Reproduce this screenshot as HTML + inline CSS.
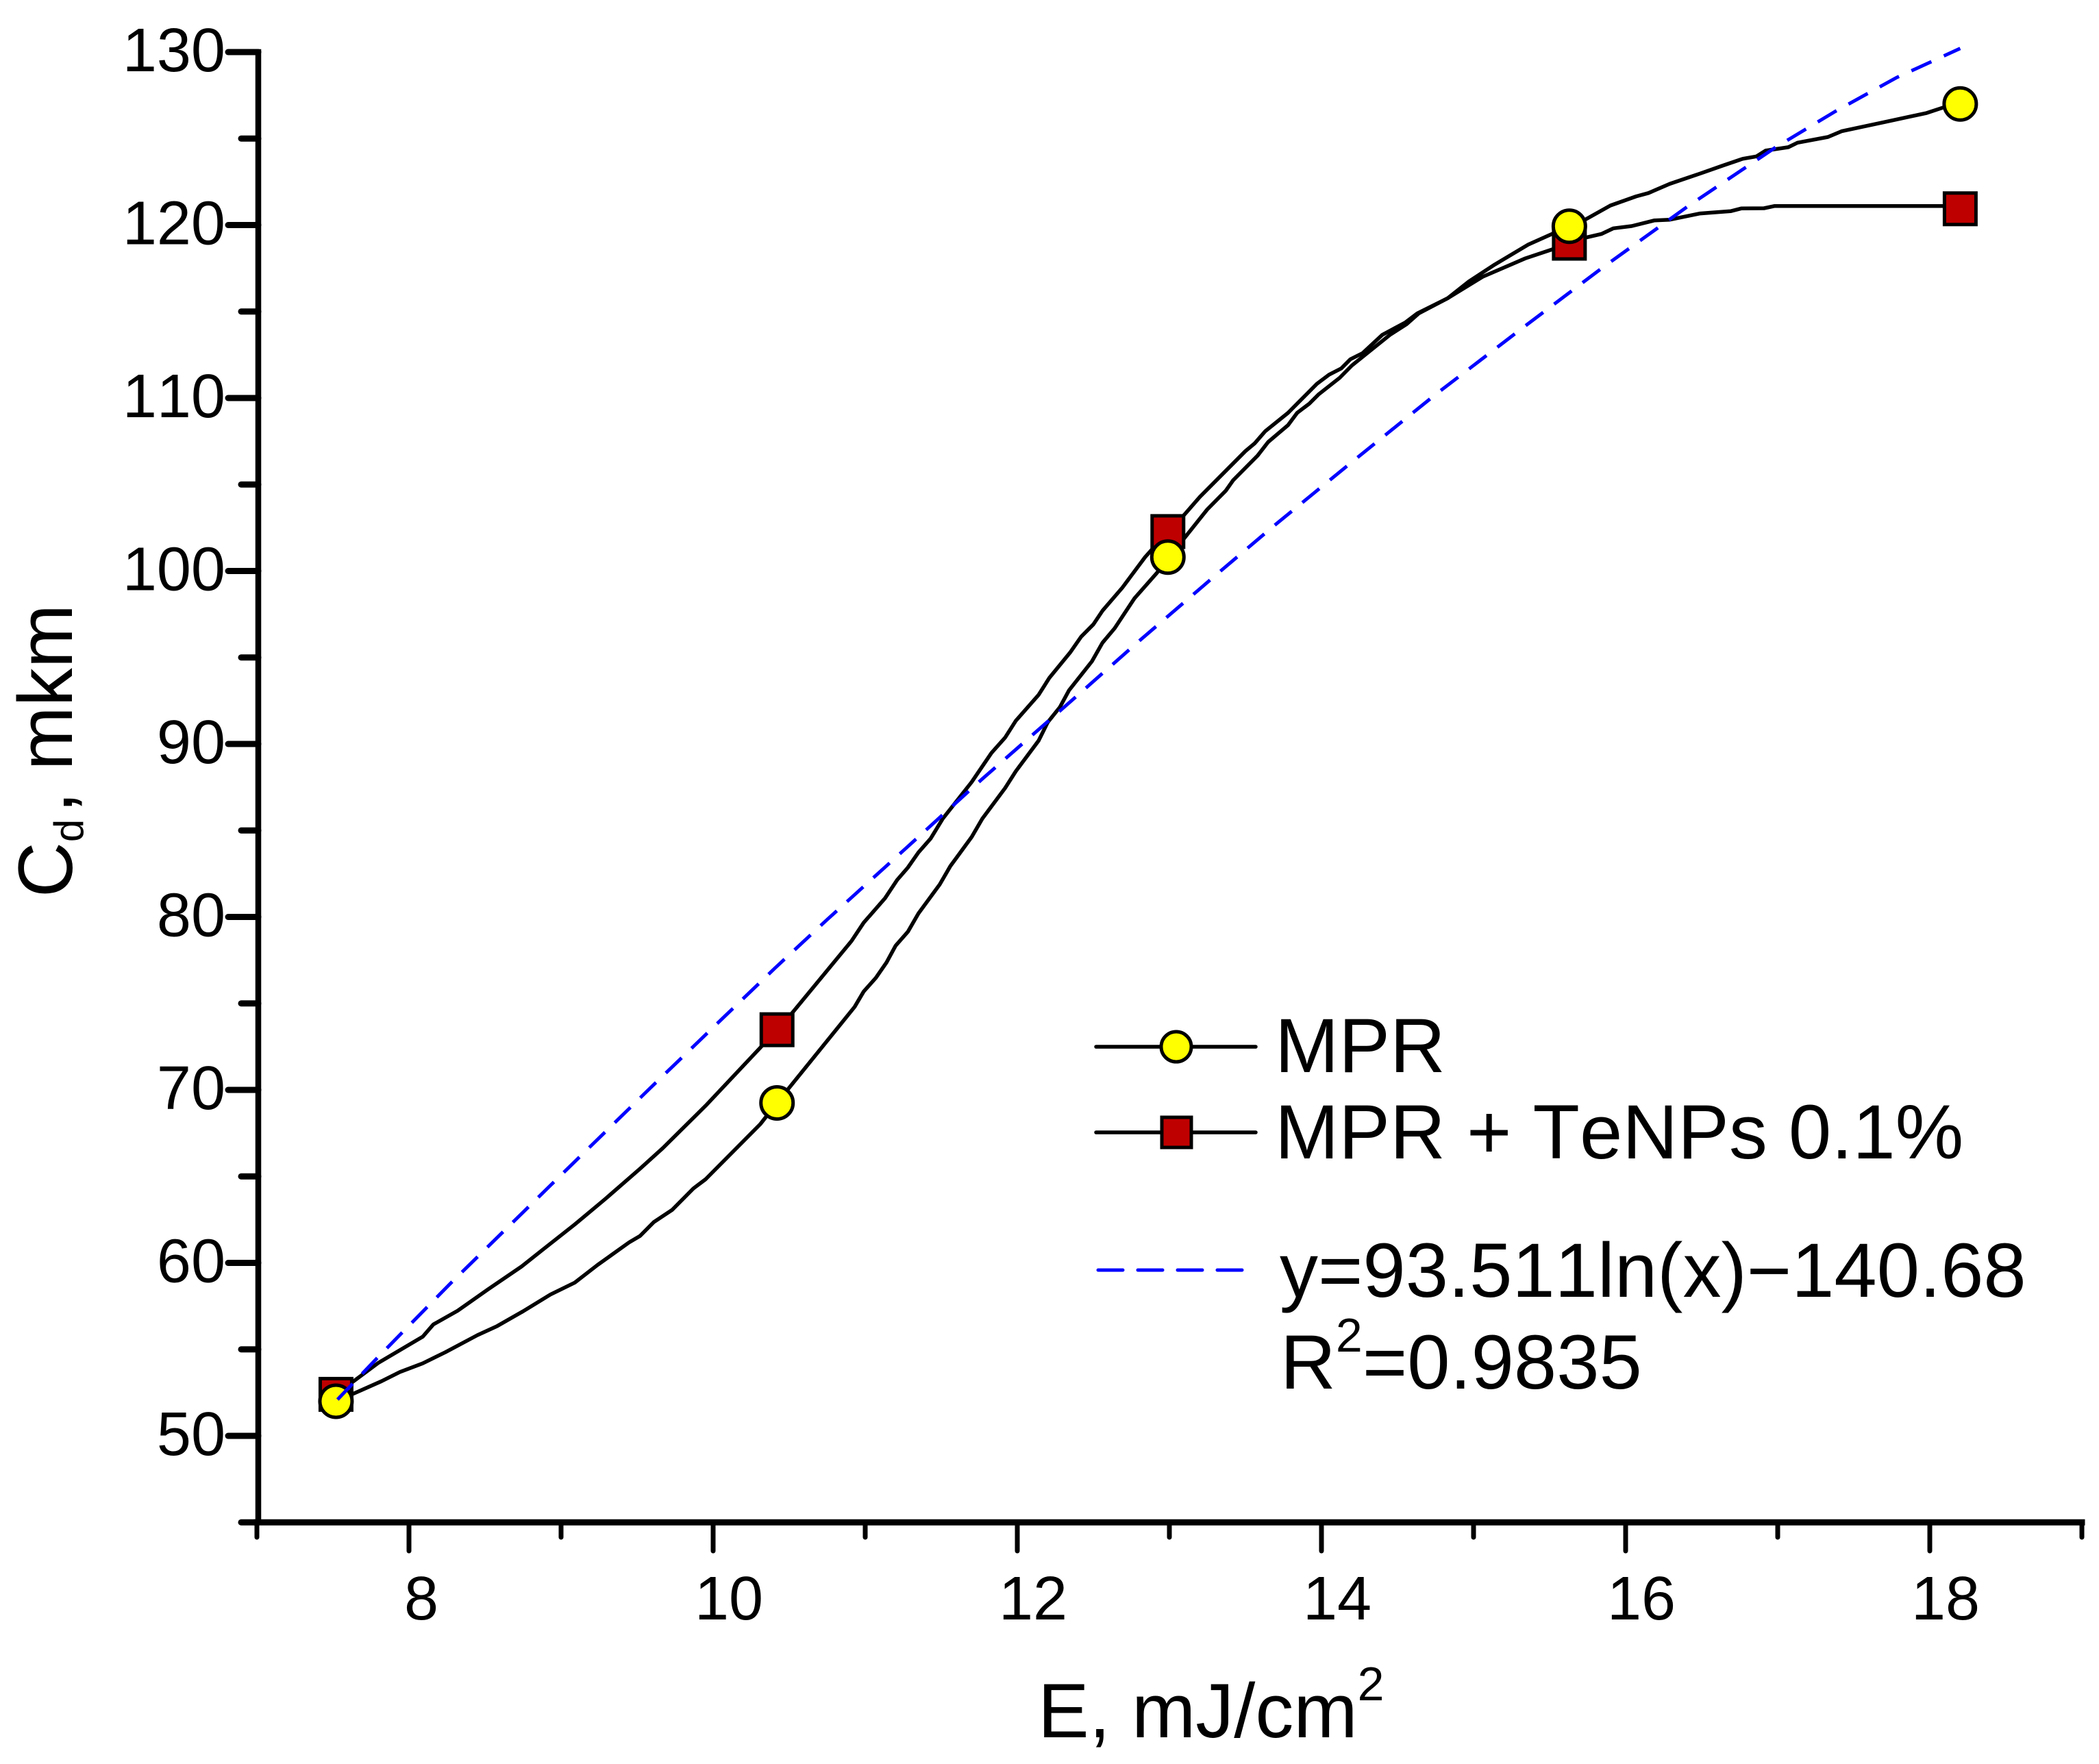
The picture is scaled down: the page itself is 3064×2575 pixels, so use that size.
<!DOCTYPE html>
<html lang="en">
<head>
<meta charset="utf-8">
<title>Cd vs E chart</title>
<style>
html,body{margin:0;padding:0;background:#fff;}
svg{display:block;}
text{font-family:"Liberation Sans",Arial,sans-serif;fill:#000;font-kerning:none;}
</style>
</head>
<body>
<svg id="chart" xmlns="http://www.w3.org/2000/svg" width="3064" height="2575" viewBox="0 0 3064 2575">
  <rect x="0" y="0" width="3064" height="2575" fill="#ffffff"/>
  <g id="axes"></g>
  <g id="series"></g>

  <text x="1515" y="2536" font-size="112">E, mJ/cm<tspan font-size="70" dy="-54">2</tspan></text>
  <text transform="translate(105,1310) rotate(-90)" x="0" y="0" font-size="112">C<tspan font-size="60" dy="16">d</tspan><tspan dx="9" dy="-16">, mkm</tspan></text>

  <g>
    <g>
      <line x1="1600" y1="1528" x2="1833" y2="1528" stroke="#000" stroke-width="5.5" stroke-linecap="round"/>
      <circle cx="1717" cy="1528" r="22" fill="#ffff00" stroke="#000" stroke-width="5"/>
      <text x="1861" y="1565" font-size="112">MPR</text>
    </g>
    <g>
      <line x1="1600" y1="1653" x2="1833" y2="1653" stroke="#000" stroke-width="5.5" stroke-linecap="round"/>
      <rect x="1696" y="1631" width="43" height="44" fill="#bf0000" stroke="#000" stroke-width="5"/>
      <text x="1861" y="1691" font-size="112">MPR + TeNPs 0.1%</text>
    </g>
    <g>
      <line x1="1603" y1="1854" x2="1815" y2="1854" stroke="#0000ff" stroke-width="5" stroke-linecap="round" stroke-dasharray="36 22"/>
      <text x="1868" y="1893" font-size="112">y=93.511ln(x)−140.68</text>
      <text x="1869" y="2027" font-size="112">R<tspan font-size="70" dy="-54">2</tspan><tspan dy="54">=0.9835</tspan></text>
    </g>
  </g>
</svg>
<script>
// ---- chart data ----
const xMajorTicks = [8, 10, 12, 14, 16, 18];
const xMinorTicks = [7, 9, 11, 13, 15, 17, 19];
const yMajorTicks = [50, 60, 70, 80, 90, 100, 110, 120, 130];
const yMinorTicks = [45, 55, 65, 75, 85, 95, 105, 115, 125];

const mprMarkerX = [7.52, 10.42, 12.99, 15.63, 18.2];
const mprMarkerY = [52.0, 69.25, 100.8, 119.93, 127.0];
const tenpsMarkerX = [7.52, 10.42, 12.99, 15.63, 18.2];
const tenpsMarkerY = [52.4, 73.48, 102.28, 118.95, 120.94];

const mprCurveX = [7.52,7.64,7.82,7.94,8.09,8.24,8.45,8.58,8.75,8.93,9.09,9.24,9.45,9.52,9.61,9.73,9.87,9.95,10.31,10.42,10.82,10.93,10.99,11.07,11.14,11.20,11.28,11.35,11.49,11.56,11.70,11.77,11.92,11.99,12.14,12.20,12.28,12.34,12.49,12.56,12.64,12.77,12.92,12.99,13.08,13.25,13.37,13.42,13.58,13.65,13.78,13.84,13.92,13.98,14.12,14.20,14.45,14.56,14.64,14.83,14.97,15.14,15.36,15.52,15.63,15.74,15.90,16.07,16.15,16.29,16.49,16.64,16.77,16.86,16.92,17.07,17.13,17.33,17.42,17.70,17.98,18.09,18.2];
const mprCurveY = [52.0,52.46,53.16,53.69,54.19,54.84,55.82,56.35,57.2,58.17,58.86,59.88,61.2,61.56,62.36,63.06,64.3,64.83,68.02,69.25,73.6,74.8,75.69,76.48,77.37,78.34,79.14,80.2,81.88,82.94,84.62,85.68,87.45,88.42,90.19,91.25,92.13,93.1,94.77,95.85,96.69,98.41,99.91,100.8,101.7,103.57,104.63,105.25,106.67,107.46,108.43,109.14,109.67,110.2,111.17,111.88,113.65,114.27,114.89,115.77,116.74,117.72,118.87,119.5,119.93,120.34,121.13,121.66,121.85,122.38,122.98,123.44,123.83,123.97,124.3,124.5,124.76,125.09,125.42,125.95,126.48,126.8,127.0];

const tenpsCurveX = [7.52,7.80,8.09,8.16,8.32,8.52,8.74,8.88,9.09,9.29,9.52,9.67,9.95,10.31,10.42,10.52,10.91,10.99,11.13,11.21,11.28,11.35,11.43,11.51,11.70,11.83,11.92,11.99,12.14,12.21,12.35,12.42,12.50,12.56,12.69,12.84,12.99,13.10,13.20,13.50,13.56,13.63,13.78,13.85,13.97,14.05,14.13,14.19,14.27,14.40,14.55,14.63,14.83,15.06,15.34,15.52,15.63,15.74,15.84,15.92,16.04,16.19,16.29,16.49,16.69,16.76,16.91,16.98,18.10,18.2];
const tenpsCurveY = [52.4,54.23,55.73,56.44,57.23,58.47,59.79,60.77,62.22,63.69,65.45,66.64,69.08,72.44,73.48,74.45,78.61,79.67,81.08,82.14,82.85,83.73,84.53,85.68,87.8,89.48,90.37,91.34,92.84,93.81,95.32,96.2,96.91,97.7,99.03,100.8,102.28,103.27,104.28,106.93,107.37,108.08,109.14,109.76,110.82,111.35,111.71,112.24,112.59,113.65,114.36,114.89,115.77,117.01,118.07,118.6,118.95,119.28,119.48,119.81,119.94,120.27,120.31,120.67,120.8,120.96,120.97,121.1,121.1,121.1];

const fitCurveX = [7.53,7.79,8.27,8.93,9.59,10.08,10.41,10.75,11.26,11.77,12.29,12.81,13.33,13.68,14.22,14.75,15.30,15.85,16.41,16.98,17.38,17.78,18.2];
const fitCurveY = [52.1,54.49,58.79,64.48,70.14,74.29,77.07,79.85,83.91,87.98,91.99,96.02,99.95,102.56,106.44,110.2,113.9,117.55,121.09,124.46,126.58,128.52,130.21];

// ---- axis functions ----
function xScale(v){ return 597 + (v - 8) * 222; }
function yScale(v){ return 2096 - (v - 50) * 25.25; }

const NS = 'http://www.w3.org/2000/svg';
const axes = document.getElementById('axes');
const series = document.getElementById('series');

function lineEl(parent, x1, y1, x2, y2, w, cap){
  const l = document.createElementNS(NS, 'line');
  l.setAttribute('x1', x1);
  l.setAttribute('y1', y1);
  l.setAttribute('x2', x2);
  l.setAttribute('y2', y2);
  l.setAttribute('stroke', '#000');
  l.setAttribute('stroke-width', w);
  l.setAttribute('stroke-linecap', cap || 'round');
  parent.appendChild(l);
  return l;
}

// axis lines
const yAxisLine = lineEl(axes, yAxisX(), yScale(130), yAxisX(), yScale(45), 8.5, 'square');


const xAxisLine = lineEl(axes, xScale(7), yScale(45), xScale(19), yScale(45), 9, 'square');


function yAxisX(){ return xScale(7) + 2; }

// y ticks
yMajorTicks.forEach(function(v){
  const t = lineEl(axes, 333, yScale(v), yAxisX(), yScale(v), 9);
  
  
  const lab = document.createElementNS(NS, 'text');
  
  
  lab.setAttribute('x', 329);
  lab.setAttribute('y', yScale(v) + 28);
  lab.setAttribute('font-size', 90);
  lab.setAttribute('text-anchor', 'end');
  lab.textContent = String(v);
  axes.appendChild(lab);
});
yMinorTicks.forEach(function(v){
  const t = lineEl(axes, 352, yScale(v), yAxisX(), yScale(v), 9);
  
  
});

// x ticks
xMajorTicks.forEach(function(v){
  const t = lineEl(axes, xScale(v), yScale(45), xScale(v), 2264, 7);
  
  
  const lab = document.createElementNS(NS, 'text');
  
  
  lab.setAttribute('x', xScale(v) + (String(v).length > 1 ? 23 : 18));
  lab.setAttribute('y', 2364);
  lab.setAttribute('font-size', 90);
  lab.setAttribute('text-anchor', 'middle');
  lab.textContent = String(v);
  axes.appendChild(lab);
});
xMinorTicks.forEach(function(v){
  const t = lineEl(axes, xScale(v), yScale(45), xScale(v), 2244, 7);
  
  
});

function pointsAttr(xs, ys){
  return xs.map(function(x, i){ return xScale(x).toFixed(1) + ',' + yScale(ys[i]).toFixed(1); }).join(' ');
}

// black curves
const tenpsLine = document.createElementNS(NS, 'polyline');


tenpsLine.setAttribute('points', pointsAttr(tenpsCurveX, tenpsCurveY));
tenpsLine.setAttribute('fill', 'none');
tenpsLine.setAttribute('stroke', '#000');
tenpsLine.setAttribute('stroke-width', 5.5);
tenpsLine.setAttribute('stroke-linejoin', 'round');
series.appendChild(tenpsLine);

const mprLine = document.createElementNS(NS, 'polyline');


mprLine.setAttribute('points', pointsAttr(mprCurveX, mprCurveY));
mprLine.setAttribute('fill', 'none');
mprLine.setAttribute('stroke', '#000');
mprLine.setAttribute('stroke-width', 5.5);
mprLine.setAttribute('stroke-linejoin', 'round');
series.appendChild(mprLine);

// markers
tenpsMarkerX.forEach(function(x, i){
  const r = document.createElementNS(NS, 'rect');
  
  
  r.setAttribute('x', xScale(x) - 23);
  r.setAttribute('y', yScale(tenpsMarkerY[i]) - 23);
  r.setAttribute('width', 46);
  r.setAttribute('height', 46);
  r.setAttribute('fill', '#bf0000');
  r.setAttribute('stroke', '#000');
  r.setAttribute('stroke-width', 5);
  series.appendChild(r);
});
mprMarkerX.forEach(function(x, i){
  const c = document.createElementNS(NS, 'circle');
  
  
  c.setAttribute('cx', xScale(x));
  c.setAttribute('cy', yScale(mprMarkerY[i]));
  c.setAttribute('r', 23.5);
  c.setAttribute('fill', '#ffff00');
  c.setAttribute('stroke', '#000');
  c.setAttribute('stroke-width', 5);
  series.appendChild(c);
});

// dashed blue fit
const fitLine = document.createElementNS(NS, 'polyline');


fitLine.setAttribute('points', pointsAttr(fitCurveX, fitCurveY));
fitLine.setAttribute('fill', 'none');
fitLine.setAttribute('stroke', '#0000ff');
fitLine.setAttribute('stroke-width', 5);
fitLine.setAttribute('stroke-dasharray', '32 20');
fitLine.setAttribute('stroke-linejoin', 'round');
series.appendChild(fitLine);
</script>
</body>
</html>
